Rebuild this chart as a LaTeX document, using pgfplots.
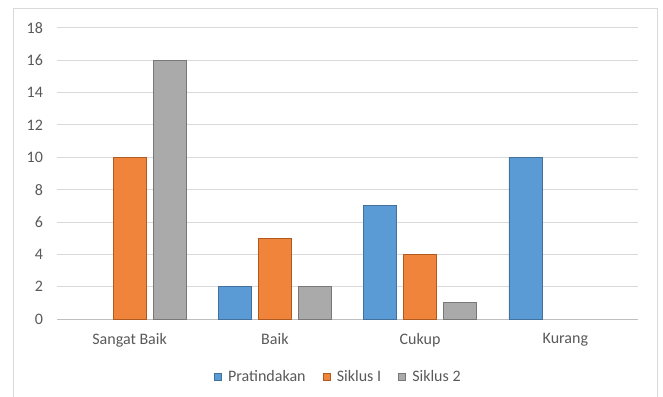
\documentclass[border=0pt]{standalone}
\usepackage{pgfplots}
\pgfplotsset{compat=1.18}
\usepackage{fontspec}
\setmainfont{Carlito}
\definecolor{cblue}{HTML}{5B9BD5}
\definecolor{cblueD}{HTML}{41719C}
\definecolor{corange}{HTML}{F0843A}
\definecolor{corangeD}{HTML}{AE5A21}
\definecolor{cgray}{HTML}{AAAAAA}
\definecolor{cgrayD}{HTML}{787878}
\definecolor{gridc}{HTML}{D9D9D9}
\definecolor{framec}{HTML}{D9D9D9}
\definecolor{axisc}{HTML}{BFBFBF}
\definecolor{txt}{HTML}{595959}
\begin{document}
\begin{tikzpicture}
\path[use as bounding box] (0pt,0pt) rectangle (497.25pt,297pt);
\draw[framec, line width=0.75pt] (10.1pt,-5pt) -- (10.1pt,290.6pt) -- (493.1pt,290.6pt) -- (493.1pt,-5pt);
\begin{axis}[
  at={(42.75pt,57.75pt)}, anchor=south west,
  scale only axis, width=435.75pt, height=218.25pt,
  xmin=0.5, xmax=4.5, ymin=0, ymax=18,
  ytick={0,2,...,18},
  xtick={1,2,3,4},
  xticklabels={Sangat Baik,Baik,Cukup,Kurang},
  axis x line*=bottom, axis y line*=left,
  x axis line style={axisc, line width=0.75pt, -},
  y axis line style={draw=none},
  major tick length=0pt,
  ymajorgrids, grid style={gridc, line width=0.75pt},
  tick label style={font=\fontsize{12}{14}\selectfont, text=txt},
  /pgf/number format/assume math mode=true,
  xticklabel style={yshift=-7pt},
  yticklabel style={xshift=-7pt},
  ybar, bar width=0.227,
  legend columns=3,
  legend style={at={(0.485,-0.2)}, anchor=center, draw=none, fill=none,
    font=\fontsize{12}{14}\selectfont, text=txt,
    /tikz/every odd column/.append style={column sep=2.5pt},
    /tikz/every even column/.append style={column sep=11pt}},
  legend image code/.code={\fill[#1] (0pt,-2.6pt) rectangle (5.3pt,2.6pt);},
]
\addplot[bar shift=-0.275, draw=cblueD, line width=0.6pt, fill=cblue]
  coordinates {(2,2) (3,7) (4,10)};
\addlegendentry{Pratindakan}
\addplot[bar shift=0, draw=corangeD, line width=0.6pt, fill=corange]
  coordinates {(1,10) (2,5) (3,4)};
\addlegendentry{Siklus I}
\addplot[bar shift=0.275, draw=cgrayD, line width=0.6pt, fill=cgray]
  coordinates {(1,16) (2,2) (3,1)};
\addlegendentry{Siklus 2}
\end{axis}
\end{tikzpicture}
\end{document}
